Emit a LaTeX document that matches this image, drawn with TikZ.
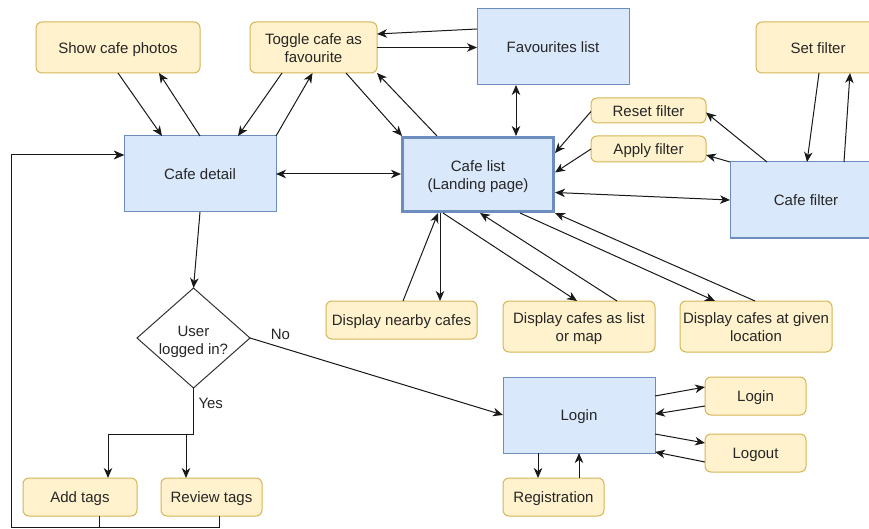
\documentclass[tikz,border=0pt]{standalone}
\usepackage{fontspec}
\setmainfont{Liberation Sans}
\usetikzlibrary{arrows.meta,shapes.geometric}
\definecolor{ylwfill}{HTML}{FFF2CC}
\definecolor{ylwline}{HTML}{D6B656}
\definecolor{bluefill}{HTML}{DAE8FC}
\definecolor{blueline}{HTML}{6C8EBF}
\definecolor{txt}{HTML}{262626}
% centred text block, lowered a little so the letters sit in the middle of the box
\newcommand{\boxtext}[2][-2pt]{\raisebox{#1}[\height][\depth]{\begin{tabular}{@{}c@{}}#2\end{tabular}}}

\begin{document}
\begin{tikzpicture}[x=1pt,y=-1pt,
  every node/.style={font=\fontsize{15}{18}\selectfont, text=txt, inner sep=0pt, outer sep=0pt},
  action/.style={draw=ylwline, fill=ylwfill, rounded corners=6pt, line width=1pt},
  screen/.style={draw=blueline, fill=bluefill, line width=1pt},
  decide/.style={diamond, draw=black!80, fill=white, line width=1pt, aspect=1.13},
  link/.style={draw=black!90, line width=1pt, -{Stealth[length=10pt,width=8.5pt,inset=3pt]}},
  twoway/.style={draw=black!90, line width=1pt, {Stealth[length=10pt,width=8.5pt,inset=3pt]}-{Stealth[length=10pt,width=8.5pt,inset=3pt]}},
  lbl/.style={inner sep=1pt}]

\clip (0,0) rectangle (869,529);
\fill[white] (0,0) rectangle (869,529);

% screens and actions
\node[action, minimum width=164, minimum height=51] (photos) at (118,47.5) {\boxtext{Show cafe photos}};
\node[action, minimum width=127, minimum height=51] (toggle) at (313.5,47.5) {\boxtext{Toggle cafe as\\favourite}};
\node[screen, minimum width=152, minimum height=76] (favs) at (553,47) {\boxtext{Favourites list}};
\node[action, minimum width=124, minimum height=51] (setf) at (818,47.5) {\boxtext{Set filter}};
\node[action, minimum width=115, minimum height=25] (reset) at (648.5,110.5) {\boxtext{Reset filter}};
\node[action, minimum width=115, minimum height=26] (apply) at (648.5,149) {\boxtext{Apply filter}};
\node[screen, minimum width=152, minimum height=76] (filter) at (806,200) {\boxtext{Cafe filter}};
\node[screen, minimum width=152, minimum height=76] (detail) at (200,174) {\boxtext{Cafe detail}};
\node[screen, line width=3pt, outer sep=1.5pt, minimum width=151, minimum height=74] (list) at (478,174.5) {\boxtext{Cafe list\\(Landing page)}};
\node[decide, minimum width=113, minimum height=100] (logged) at (193.5,338) {\boxtext[-4pt]{User\\logged in?}};
\node[action, minimum width=114, minimum height=38] (addtags) at (80,497) {\boxtext{Add tags}};
\node[action, minimum width=101, minimum height=38] (review) at (211.5,497) {\boxtext{Review tags}};
\node[action, minimum width=151, minimum height=38] (nearby) at (401.5,320) {\boxtext{Display nearby cafes}};
\node[action, minimum width=152, minimum height=51] (listmap) at (579,326.5) {\boxtext{Display cafes as list\\or map}};
\node[action, minimum width=152, minimum height=51] (location) at (756,326.5) {\boxtext{Display cafes at given\\location}};
\node[screen, minimum width=152, minimum height=76] (loginbig) at (579,415) {\boxtext{Login}};
\node[action, minimum width=101, minimum height=38] (loginsm) at (755.5,396) {\boxtext{Login}};
\node[action, minimum width=101, minimum height=38] (logout) at (755.5,453) {\boxtext{Logout}};
\node[action, minimum width=101, minimum height=38] (reg) at (553.5,497) {\boxtext{Registration}};

% cafe detail and its actions
\draw[link] (photos.south) -- ([xshift=-38]detail.north);
\draw[link] (detail.north) -- ([xshift=41]photos.south);
\draw[link] ([xshift=-31.5]toggle.south) -- ([xshift=38]detail.north);
\draw[link] (detail.north east) -- ([xshift=-1]toggle.south);

% favourites
\draw[link] ([yshift=18]favs.west) -- ([yshift=13.5]toggle.east);
\draw[link] (toggle.east) -- (toggle.east -| favs.west);
\draw[link] ([xshift=32.5]toggle.south) -- ([xshift=-76]list.north);
\draw[link] ([xshift=-41]list.north) -- (toggle.south east);
\draw[twoway] ([xshift=-37]favs.south) -- ([xshift=38]list.north);
\draw[twoway] (detail.east) -- (detail.east -| list.west);

% filters
\draw[link] ([yshift=-1]reset.west) -- ([yshift=21.5]list.east);
\draw[link] (apply.west) -- ([yshift=2]list.east);
\draw[twoway] ([yshift=-18]list.east) -- (filter.west);
\draw[link] ([xshift=-39]filter.north) -- ([yshift=-2]reset.east);
\draw[link] (filter.north west) -- ([yshift=-6]apply.east);
\draw[link] ([xshift=1]setf.south) -- ([xshift=1]filter.north);
\draw[link] ([xshift=38]filter.north) -- ([xshift=32]setf.south);

% display options below the list
\draw[link] ([xshift=1.5]nearby.north) -- ([xshift=-40]list.south);
\draw[link] ([xshift=-38]list.south) -- ([xshift=-38]list.south |- nearby.north);
\draw[link] ([xshift=-35]list.south) -- ([xshift=-2]listmap.north);
\draw[link] ([xshift=38]listmap.north) -- ([xshift=2]list.south);
\draw[link] ([xshift=42]list.south) -- ([xshift=-41]location.north);
\draw[link] ([xshift=-1]location.north) -- (list.south east);

% login decision
\draw[link] (detail.south) -- (logged.north);
\draw[link] (logged.east) -- node[lbl, pos=0.12, above=7pt] {No} (loginbig.west);
\draw[link] (logged.south) -- node[lbl, pos=0.33, right=4pt] {Yes} ++(0,46) -| ([xshift=28]addtags.north);
\draw[link] (logged.south) -- ++(0,46) -| ([xshift=-25.5]review.north);

% return to cafe detail
\coordinate (loopcorner) at (11,527);
\draw[link] ([xshift=19]addtags.south) |- (loopcorner) |- ([yshift=19]detail.west);
\draw[link] ([xshift=7.5]review.south) |- (loopcorner) |- ([yshift=19]detail.west);

% login screen
\draw[link] ([yshift=19]loginbig.east) -- ([yshift=9]loginsm.west);
\draw[link] ([yshift=-10]loginsm.west) -- ([yshift=1]loginbig.east);
\draw[link] ([yshift=-19]loginbig.east) -- ([yshift=10]logout.west);
\draw[link] ([yshift=-9]logout.west) -- ([yshift=-37]loginbig.east);
\draw[link] ([xshift=-41]loginbig.south) -- ([xshift=-15.5]reg.north);
\draw[link] ([xshift=25.5]reg.north) -- (loginbig.south);
\end{tikzpicture}
\end{document}
